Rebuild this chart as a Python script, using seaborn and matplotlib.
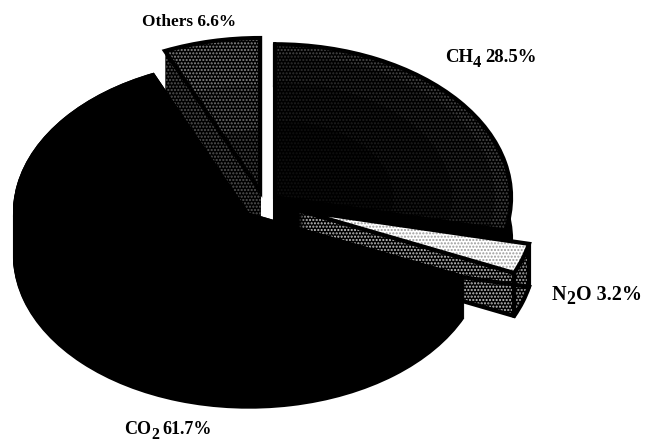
import matplotlib
matplotlib.use("Agg")
import matplotlib.pyplot as plt
import numpy as np
import seaborn as sns

# Greenhouse gas shares, clockwise from twelve o'clock
gases = ["CH4", "N2O", "CO2", "Others"]
shares = [28.5, 3.2, 61.7, 6.6]
explode = [0.06, 0.155, 0.09, 0.08]

sns.set_theme(style="white")
plt.rcParams["font.family"] = ["Liberation Serif", "DejaVu Serif"]
plt.rcParams["font.weight"] = "bold"

# Screen geometry of the tilted pie, in pixels
WIDTH, HEIGHT = 651, 442
CX, CY, RX, RY, DEPTH = 264, 203, 236, 153, 43

fig = plt.figure(figsize=(WIDTH / 100, HEIGHT / 100), dpi=100, facecolor="white")
ax = fig.add_axes([0, 0, 1, 1])

# Back-to-front stacking order
layer = {"Others": 1, "CH4": 2, "N2O": 3, "CO2": 4}
# (face, dot colour) of the top surface and of the extruded side
top_style = {
    "CH4": ("#000000", "#4a4a4a"),
    "N2O": ("#ffffff", "#999999"),
    "CO2": ("#000000", None),
    "Others": ("#000000", "#8a8a8a"),
}
side_style = {
    "CH4": ("#000000", None),
    "N2O": ("#000000", "#e0e0e0"),
    "CO2": ("#000000", None),
    "Others": ("#000000", "#6a6a6a"),
}


def pie_layer(drop, styles, radius=1.0, only=None, z=0.0):
    """Draw one slice-by-slice copy of the pie, lowered by `drop`."""
    wedges, _ = ax.pie(shares, explode=explode, center=(0, -drop), radius=radius,
                       startangle=90, counterclock=False)
    for gas, wedge in zip(gases, wedges):
        if only is not None and gas not in only:
            wedge.remove()
            continue
        face, dots = styles[gas]
        wedge.set_zorder(layer[gas] + z)
        wedge.set_linewidth(0)
        wedge.set_facecolor(face)
        if dots is not None:
            wedge.set_edgecolor(dots)
            wedge.set_hatch(".....")
    return dict(zip(gases, wedges))


# Extruded body, stacked from the bottom upward
depth = DEPTH / RY
for drop in np.linspace(depth, 0, DEPTH + 1):
    pie_layer(drop, side_style)

# Top surfaces
tops = pie_layer(0, top_style, z=0.1)

# The CH4 and Others surfaces darken toward the middle
for radius, dots in [(0.93, "#303030"), (0.75, "#1e1e1e"), (0.5, "#101010")]:
    pie_layer(0, {"CH4": ("#000000", dots)}, radius=radius, only=["CH4"], z=0.2)
for radius, dots in [(0.7, "#6e6e6e"), (0.4, "#4a4a4a")]:
    pie_layer(0, {"Others": ("#000000", dots)}, radius=radius, only=["Others"], z=0.2)

# Heavy outlines on top surfaces and slice ends
for gas in ["Others", "CH4", "N2O"]:
    w = tops[gas]
    outline = pie_layer(0, {gas: ("none", None)}, only=[gas], z=0.3)[gas]
    outline.set_fill(False)
    outline.set_edgecolor("black")
    outline.set_linewidth(3)
    if gas == "Others":
        continue
    bottom = pie_layer(depth, {gas: ("none", None)}, only=[gas], z=0.05)[gas]
    bottom.set_fill(False)
    bottom.set_edgecolor("black")
    bottom.set_linewidth(3)
    for theta in (w.theta1, w.theta2):
        px = w.center[0] + np.cos(np.radians(theta))
        py = w.center[1] + np.sin(np.radians(theta))
        ax.plot([px, px], [py, py - depth], color="black", lw=3,
                solid_capstyle="round", zorder=layer[gas] + 0.05)

ax.set_aspect("auto")
ax.set_xlim(-CX / RX, (WIDTH - CX) / RX)
ax.set_ylim((CY - HEIGHT) / RY, CY / RY)
ax.set_axis_off()

# Slice captions as (text, lowered) runs, positioned in pixels, with their type size
labels = [
    (445, 56, 13.5, [("CH", False), ("4", True), (" 28.5%", False)]),
    (552, 292, 14.5, [("N", False), ("2", True), ("O 3.2%", False)]),
    (124, 428, 13, [("CO", False), ("2", True), (" 61.7%", False)]),
    (142, 20, 12.4, [("Others 6.6%", False)]),
]
renderer = fig.canvas.get_renderer()
for x, y, size, runs in labels:
    cursor = x
    for text, lowered in runs:
        t = fig.text(cursor / WIDTH, 1 - (y + (5 if lowered else 0)) / HEIGHT, text,
                     fontsize=size * 0.88 if lowered else size, fontweight="bold",
                     color="black", ha="left", va="center_baseline")
        if text.startswith(" "):
            # a leading space has no ink, so add its advance by hand
            t.set_text(text.strip())
            t.set_x((cursor + 4) / WIDTH)
            cursor += 4
        cursor += t.get_window_extent(renderer).width

fig.savefig("out.png", dpi=100, facecolor="white")
